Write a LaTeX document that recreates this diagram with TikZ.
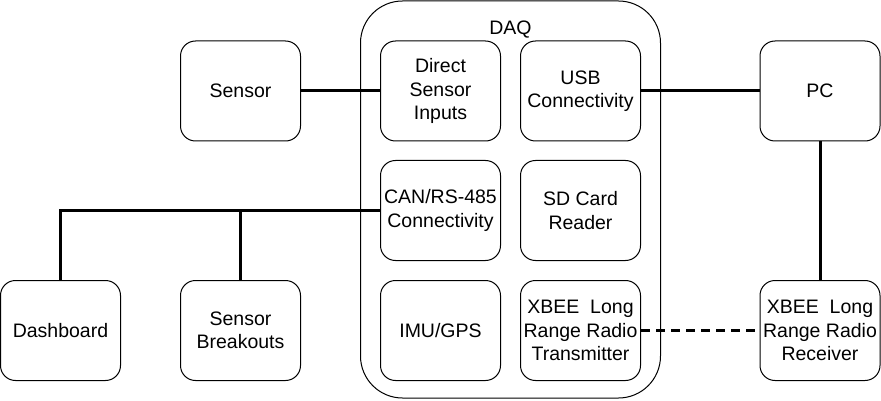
\documentclass[tikz,border=0pt]{standalone}
\usepackage{fontspec}
\setmainfont{Liberation Sans}
\begin{document}
\begin{tikzpicture}[x=1pt,y=-1pt,
  box/.style={draw, line width=1pt, rounded corners=15pt, minimum width=120pt, minimum height=100pt,
    inner sep=0pt, align=center, font=\fontsize{19.5}{23.5}\selectfont},
  daqbox/.style={draw, line width=1pt, rounded corners=42pt, minimum width=300pt, minimum height=397pt, inner sep=0pt},
  wire/.style={line width=3pt},
  radio/.style={line width=3pt, dash pattern=on 9pt off 6pt}]
\useasboundingbox (0,0) rectangle (881,401);
\node[daqbox] (daq) at (510.5,199.5) {};
\node[anchor=base, font=\fontsize{19.5}{23.5}\selectfont, inner sep=0pt] (daqlabel) at (510.5,34.5) {DAQ};
\node[box] (dsi) at (440.5,91) {Direct\\Sensor\\Inputs};
\node[box] (usb) at (580.5,91) {USB\\Connectivity};
\node[box] (can) at (440.5,210.5) {CAN/RS-485\\Connectivity};
\node[box] (sd) at (580.5,210.5) {SD Card\\Reader};
\node[box] (imu) at (440.5,330.5) {IMU/GPS};
\node[box] (tx) at (580.5,330.5) {XBEE\ \ Long\\Range Radio\\Transmitter};
\node[box] (sensor) at (240.5,91) {Sensor};
\node[box] (pc) at (820,91) {PC};
\node[box] (dash) at (60.5,330.5) {Dashboard};
\node[box] (sb) at (240.5,330.5) {Sensor\\Breakouts};
\node[box] (rx) at (820,330.5) {XBEE\ \ Long\\Range Radio\\Receiver};
\draw[wire] (sensor.east) -- (dsi.west);
\draw[wire] (usb.east) -- (pc.west);
\draw[wire] (pc.south) -- (rx.north);
\draw[radio] (tx.east) -- (rx.west);
\coordinate (j) at (sb.north |- can.west);
\draw[wire] (can.west) -| (dash.north);
\draw[wire] (j) -- (sb.north);
\end{tikzpicture}
\end{document}
